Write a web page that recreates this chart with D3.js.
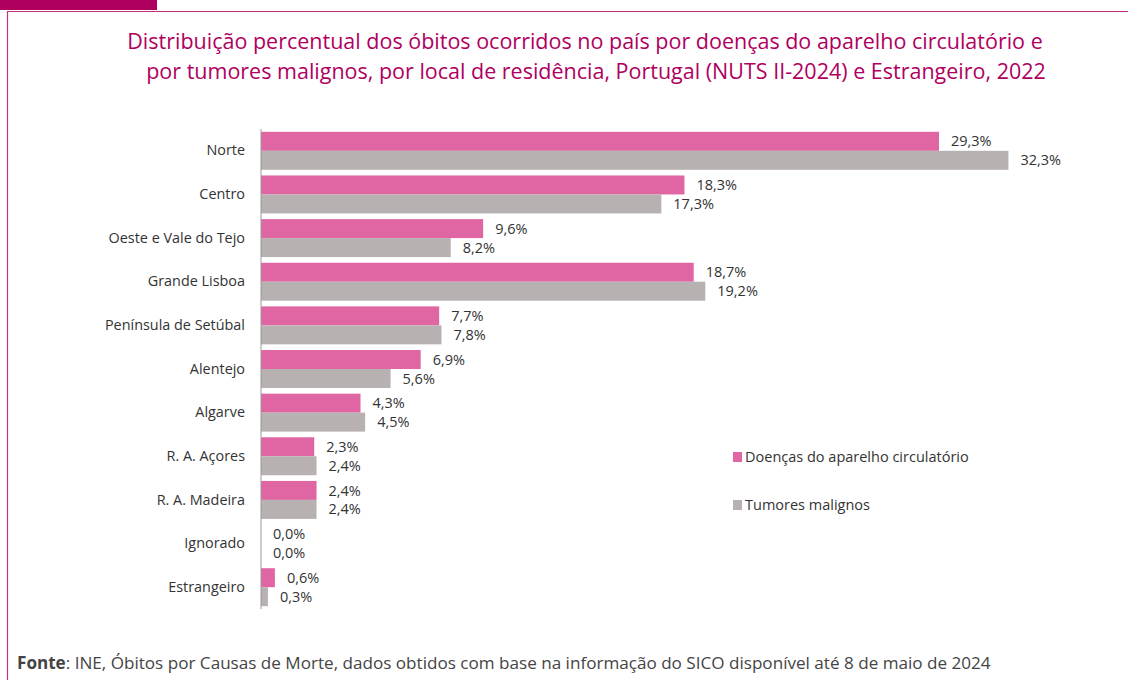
<!DOCTYPE html>
<html>
<head>
<meta charset="utf-8">
<script src="https://cdn.jsdelivr.net/npm/d3@7"></script>
<style>
  body { margin: 0; background: #fff; }
  svg { font-family: "Open Sans", "Noto Sans", sans-serif; display: block; }
</style>
</head>
<body>
<svg width="1128" height="680"></svg>
<script>
const regions = ["Norte", "Centro", "Oeste e Vale do Tejo", "Grande Lisboa", "Península de Setúbal",
    "Alentejo", "Algarve", "R. A. Açores", "R. A. Madeira", "Ignorado", "Estrangeiro"];
const circulatorio = [29.3, 18.3, 9.6, 18.7, 7.7, 6.9, 4.3, 2.3, 2.4, 0.0, 0.6];
const tumores = [32.3, 17.3, 8.2, 19.2, 7.8, 5.6, 4.5, 2.4, 2.4, 0.0, 0.3];
const seriesNames = ["Doenças do aparelho circulatório", "Tumores malignos"];
const colors = ["#e066a3", "#b7b2b1"];

const svg = d3.select("svg");
const magenta = "#b0005f";

// frame + tab
svg.append("rect").attr("x", 0).attr("y", 0).attr("width", 157).attr("height", 10).attr("fill", magenta);
svg.append("path")
    .attr("d", "M7.5,680 V11.5 H1128")
    .attr("fill", "none")
    .attr("stroke", "#c0307f")
    .attr("stroke-width", 1.2);

// title
const title = svg.append("text")
    .attr("text-anchor", "middle")
    .attr("fill", magenta)
    .style("font-size", "21.5px");
title.append("tspan").attr("x", 585).attr("y", 49)
    .text("Distribuição percentual dos óbitos ocorridos no país por doenças do aparelho circulatório e");
title.append("tspan").attr("x", 596).attr("y", 79)
    .text("por tumores malignos, por local de residência, Portugal (NUTS II-2024) e Estrangeiro, 2022");

const x = d3.scaleLinear().domain([0, 1]).range([261, 284.14]);

const y = d3.scaleBand()
    .domain(regions)
    .range([129, 609])
    .paddingInner(0.13)
    .paddingOuter(0.065);

const sub = d3.scaleBand()
    .domain([0, 1])
    .range([0, y.bandwidth()]);

const data = regions.map((r, i) => ({ region: r, values: [circulatorio[i], tumores[i]] }));

const groups = svg.selectAll(".grp")
    .data(data)
    .enter()
    .append("g")
    .attr("class", "grp")
    .attr("transform", d => `translate(0,${y(d.region)})`);

groups.selectAll("rect")
    .data(d => d.values)
    .enter()
    .append("rect")
    .attr("x", x(0))
    .attr("y", (v, j) => sub(j))
    .attr("width", v => x(v) - x(0))
    .attr("height", sub.bandwidth())
    .attr("fill", (v, j) => colors[j]);

groups.selectAll(".val")
    .data(d => d.values)
    .enter()
    .append("text")
    .attr("class", "val")
    .attr("x", v => x(v) + 12)
    .attr("y", (v, j) => sub(j) + sub.bandwidth() / 2)
    .attr("dy", "0.35em")
    .attr("fill", "#333")
    .style("font-size", "14.5px")
    .text(v => v.toFixed(1).replace(".", ",") + "%");

// y axis
const yAxis = svg.append("g")
    .attr("transform", `translate(${x(0)},0)`)
    .call(d3.axisLeft(y).tickSize(0).tickPadding(16));
yAxis.select(".domain").attr("stroke", "#999").attr("d", "M0,129V609");
yAxis.selectAll("text")
    .attr("fill", "#333")
    .style("font-size", "14.4px")
    .style("font-family", "'Open Sans', 'Noto Sans', sans-serif");

// legend
const legend = svg.selectAll(".leg")
    .data(seriesNames)
    .enter()
    .append("g")
    .attr("class", "leg")
    .attr("transform", (d, i) => `translate(733,${457 + i * 48})`);
legend.append("rect")
    .attr("x", 0).attr("y", -5).attr("width", 9).attr("height", 10)
    .attr("fill", (d, i) => colors[i]);
legend.append("text")
    .attr("x", 12).attr("dy", "0.35em")
    .attr("fill", "#333")
    .style("font-size", "14.5px")
    .text(d => d);

// source
const src = svg.append("text")
    .attr("x", 17).attr("y", 669)
    .attr("fill", "#444")
    .style("font-size", "17.1px");
src.append("tspan").style("font-weight", "bold").text("Fonte");
src.append("tspan").text(": INE, Óbitos por Causas de Morte, dados obtidos com base na informação do SICO disponível até 8 de maio de 2024");
</script>
</body>
</html>
